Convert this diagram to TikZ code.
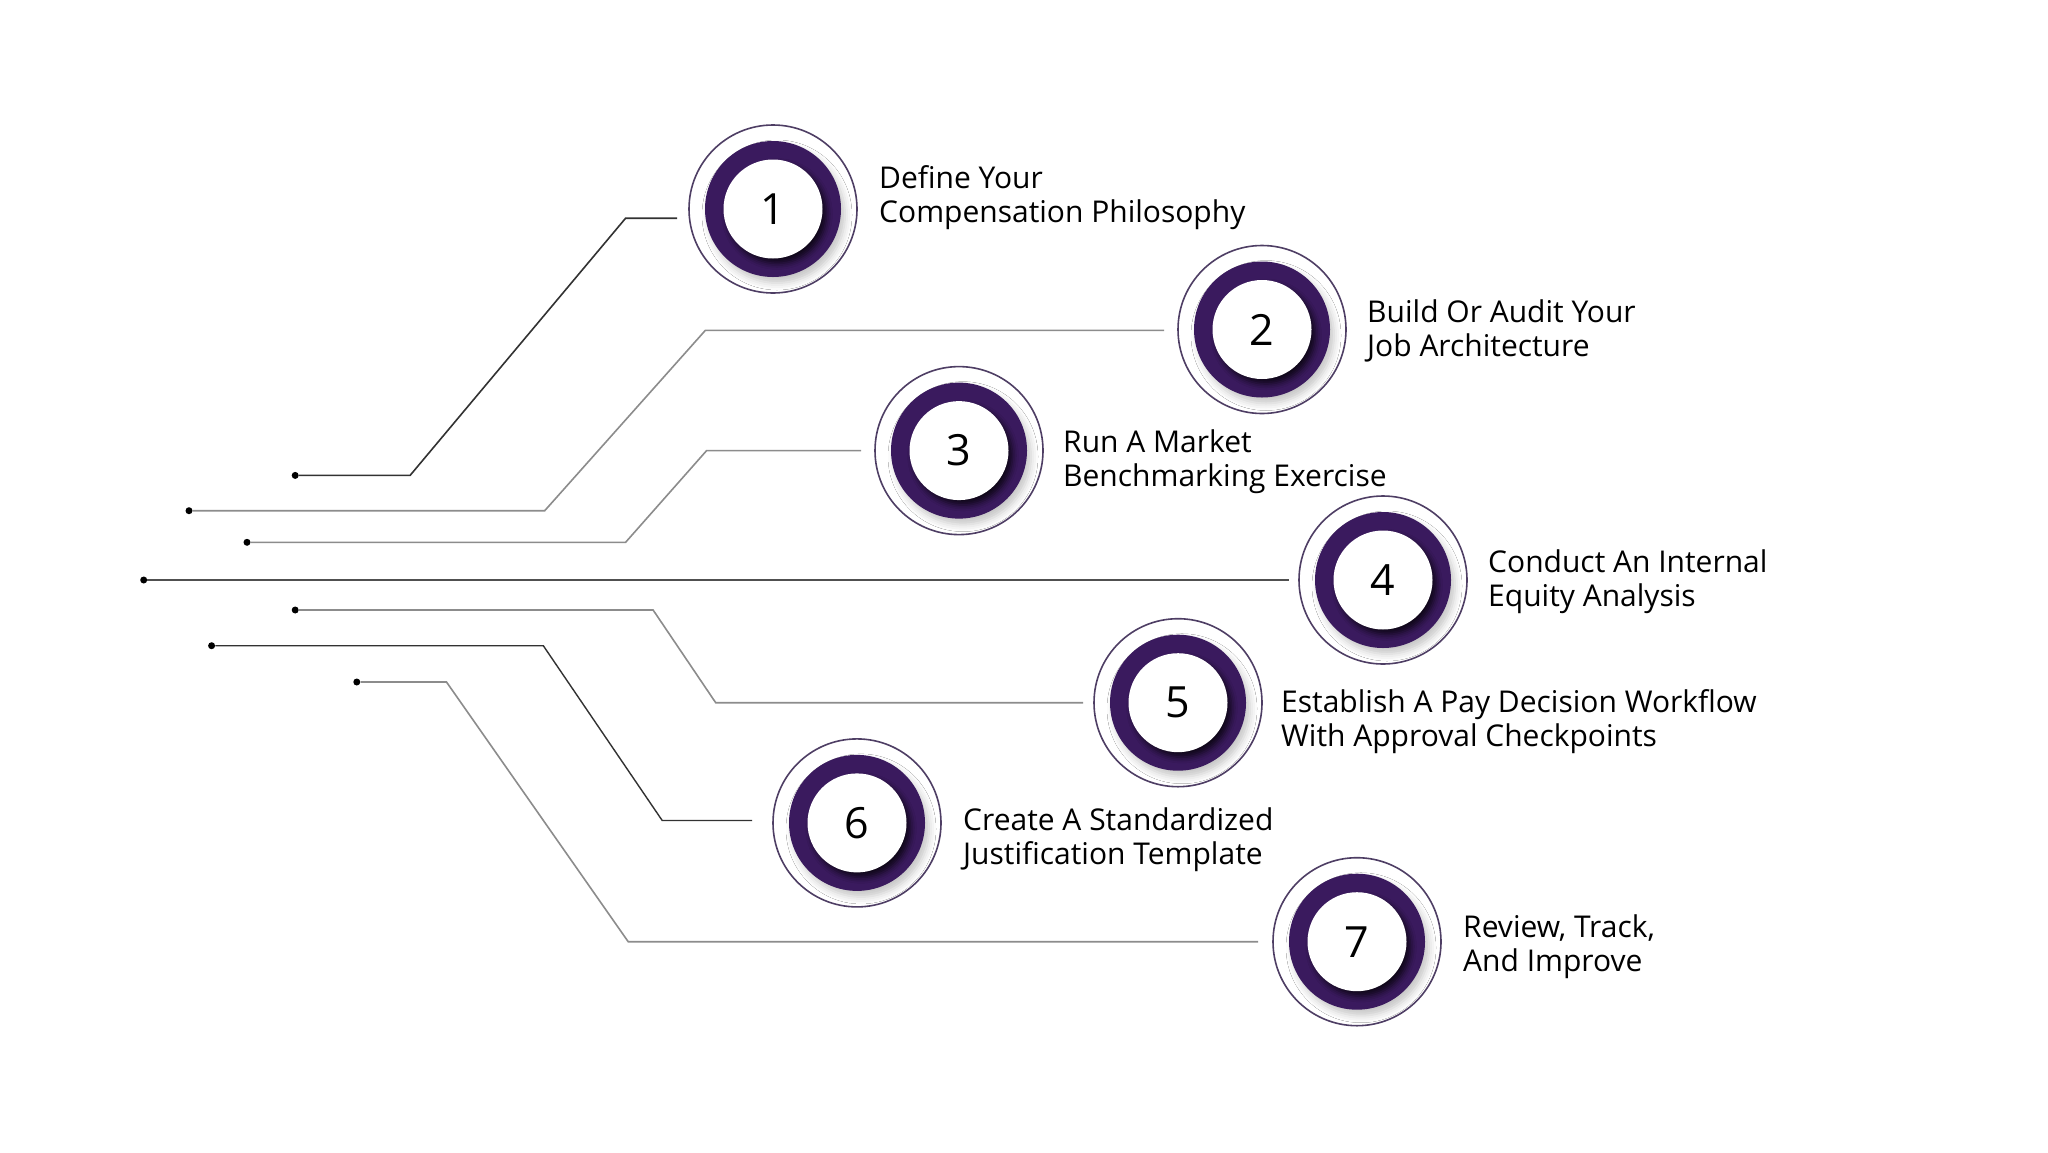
\documentclass[tikz,border=0pt]{standalone}
\usepackage{fontspec}
\setmainfont{Open Sans}
\usetikzlibrary{shadows.blur}
\definecolor{purp}{RGB}{58,26,94}
\definecolor{ringc}{RGB}{78,62,100}
\definecolor{ldark}{RGB}{50,50,50}
\definecolor{lmid}{RGB}{80,80,80}
\definecolor{llight}{RGB}{140,140,140}
\tikzset{
  ring/.style={circle, draw=ringc, line width=1.6pt, fill=white, minimum size=168pt, inner sep=0pt},
  band/.style={circle, fill=purp, minimum size=136pt, inner sep=0pt,
    blur shadow={shadow xshift=4pt, shadow yshift=-6pt, shadow opacity=22, shadow blur radius=7pt}},
  core/.style={circle, fill=white, minimum size=99pt, inner sep=0pt,
    font=\fontsize{43}{43}\selectfont,
    blur shadow={shadow xshift=4pt, shadow yshift=-5pt, shadow opacity=75, shadow blur radius=6pt}},
  lbl/.style={anchor=west, align=left, inner sep=0pt, font=\fontsize{30}{34}\selectfont},
  dotn/.style={circle, fill=black, minimum size=7pt, inner sep=0pt},
  conn/.style={line width=1.6pt}
}
\newcommand{\stepcircle}[3]{%
  \node[ring] (c#1) at (#2) {};
  \node[band] (p#1) at (#2) {};
  \node[core] (n#1) at (#2) {#1};
}
\begin{document}
\begin{tikzpicture}[x=1pt,y=-1pt]
\useasboundingbox (0,0) rectangle (2048,1152);
\fill[white] (0,0) rectangle (2048,1152);

% circles
\stepcircle{1}{773,209}{}
\stepcircle{2}{1262,329.5}{}
\stepcircle{3}{959,450.6}{}
\stepcircle{4}{1383,580}{}
\stepcircle{5}{1178,702.7}{}
\stepcircle{6}{857,822.9}{}
\stepcircle{7}{1357,941.7}{}

% labels
\node[lbl] (t1) at (879,198) {Define Your\\Compensation Philosophy};
\node[lbl] (t2) at (1367,331) {Build Or Audit Your\\Job Architecture};
\node[lbl] (t3) at (1063,462) {Run A Market\\Benchmarking Exercise};
\node[lbl] (t4) at (1488,582) {Conduct An Internal\\Equity Analysis};
\node[lbl] (t5) at (1281,722) {Establish A Pay Decision Workflow\\With Approval Checkpoints};
\node[lbl] (t6) at (963,840) {Create A Standardized\\Justification Template};
\node[lbl] (t7) at (1463,947) {Review, Track,\\And Improve};

% dots
\node[dotn] (d1) at (295.2,475.4) {};
\node[dotn] (d2) at (189,510.7) {};
\node[dotn] (d3) at (247,542.3) {};
\node[dotn] (d4) at (143.7,580) {};
\node[dotn] (d5) at (295.2,610) {};
\node[dotn] (d6) at (211.6,645.7) {};
\node[dotn] (d7) at (356.8,682) {};

% bend points
\coordinate (a1) at (410.1,475.4);  \coordinate (b1) at (625.6,218.2);
\coordinate (a2) at (544.7,510.7);  \coordinate (b2) at (705.3,330.4);
\coordinate (a3) at (625.6,542.3);  \coordinate (b3) at (706.6,450.6);
\coordinate (a5) at (653.1,610);    \coordinate (b5) at (715.7,702.7);
\coordinate (a6) at (543.3,645.7);  \coordinate (b6) at (662.2,820.5);
\coordinate (a7) at (446.5,682);    \coordinate (b7) at (628.2,941.7);

% connectors
\draw[conn, draw=ldark, shorten >=11pt] (d1) -- (a1) -- (b1) -- (c1.west |- b1);
\draw[conn, draw=llight, shorten >=13pt] (d2) -- (a2) -- (b2) -- (c2.west |- b2);
\draw[conn, draw=llight, shorten >=13pt] (d3) -- (a3) -- (b3) -- (c3.west |- b3);
\draw[conn, draw=lmid, shorten >=9pt] (d4) -- (c4.west |- d4);
\draw[conn, draw=llight, shorten >=10pt] (d5) -- (a5) -- (b5) -- (c5.west |- b5);
\draw[conn, draw=ldark, line width=1.4pt, shorten >=20pt] (d6) -- (a6) -- (b6) -- (c6.west |- b6);
\draw[conn, draw=llight, shorten >=14pt] (d7) -- (a7) -- (b7) -- (c7.west |- b7);
\end{tikzpicture}
\end{document}
